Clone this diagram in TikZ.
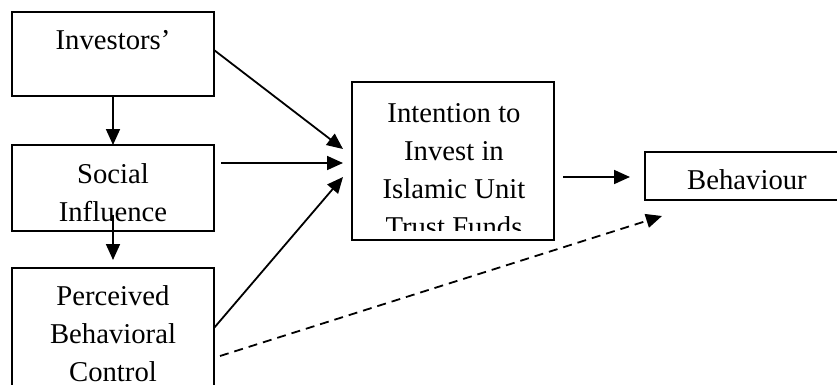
\documentclass[tikz,border=0pt]{standalone}
\usepackage{fontspec}
\setmainfont{Liberation Serif}
\usetikzlibrary{arrows.meta}
\tikzset{
  boxshape/.style={draw, line width=1.8pt, rectangle, inner sep=0pt},
  txt/.style={inner sep=0pt, anchor=base, font=\fontsize{28.7}{38}\selectfont},
  conn/.style={line width=1.8pt, -{Triangle[length=16pt,width=14pt]}},
  dconn/.style={conn, dash pattern=on 9pt off 6pt}
}
\begin{document}
\begin{tikzpicture}[x=1pt,y=-1pt]
\useasboundingbox (0,0) rectangle (837,385);
\clip (0,0) rectangle (837,385);
\fill[white] (0,0) rectangle (837,385);
% boxes
\node[boxshape, minimum width=202pt, minimum height=84pt] (inv) at (113,54) {};
\node[boxshape, minimum width=202pt, minimum height=86pt] (soc) at (113,188) {};
\node[boxshape, minimum width=202pt, minimum height=140pt] (pbc) at (113,338) {};
\node[boxshape, minimum width=202pt, minimum height=158pt] (int) at (453,161) {};
\node[boxshape, minimum width=220pt, minimum height=48pt] (beh) at (755,176) {};
% texts
\node[txt] (invt) at (113,50) {Investors’};
\node[txt] (soct1) at (113,183) {Social};
\node[txt] (soct2) at (113,221) {Influence};
\node[txt] (pbct1) at (113,305) {Perceived};
\node[txt] (pbct2) at (113,343) {Behavioral};
\node[txt] (pbct3) at (113,381) {Control};
\begin{scope}
\clip (353,83) rectangle (553,230);
\node[txt] (intt1) at (454,123) {Intention to};
\node[txt] (intt2) at (454,160) {Invest in};
\node[txt] (intt3) at (454,198) {Islamic Unit};
\node[txt] (intt4) at (454,236) {Trust Funds};
\end{scope}
\node[txt] (beht) at (747,189) {Behaviour};
% connector coordinates
\coordinate (a1) at (214,50);
\coordinate (a1e) at (343,149);
\coordinate (a2) at (221,163);
\coordinate (a2e) at (343,163);
\coordinate (a3) at (214,328);
\coordinate (a3e) at (343,177);
\coordinate (v1) at (113,96);
\coordinate (v1e) at (113,145);
\coordinate (v2) at (113,215);
\coordinate (v2e) at (113,260);
\coordinate (h1) at (563,177);
\coordinate (h1e) at (630,177);
\coordinate (d1) at (220,356);
\coordinate (d1e) at (662,216);
% connectors
\draw[conn] (v1) -- (v1e);
\draw[conn] (v2) -- (v2e);
\draw[conn] (a1) -- (a1e);
\draw[conn] (a2) -- (a2e);
\draw[conn] (a3) -- (a3e);
\draw[conn] (h1) -- (h1e);
\draw[dconn] (d1) -- (d1e);
\end{tikzpicture}
\end{document}
